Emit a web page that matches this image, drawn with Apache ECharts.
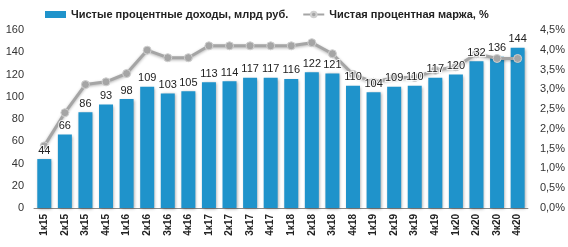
<!DOCTYPE html>
<html>
<head>
<meta charset="utf-8">
<script src="https://cdn.jsdelivr.net/npm/echarts@6/dist/echarts.min.js"></script>
<style>
  html, body { margin: 0; padding: 0; background: #fff; }
  #chart { width: 568px; height: 247px; }
</style>
</head>
<body>
<div id="chart"></div>
<script>
const quarters = ['1к15', '2к15', '3к15', '4к15', '1к16', '2к16', '3к16', '4к16',
    '1к17', '2к17', '3к17', '4к17', '1к18', '2к18', '3к18', '4к18',
    '1к19', '2к19', '3к19', '4к19', '1к20', '2к20', '3к20', '4к20'];
const netIncome = [44, 66, 86, 93, 98, 109, 103, 105, 113, 114, 117, 117,
    116, 122, 121, 110, 104, 109, 110, 117, 120, 132, 136, 144];
const netMargin = [1.57, 2.41, 3.12, 3.19, 3.40, 3.99, 3.80, 3.80, 4.10, 4.10, 4.10, 4.10,
    4.10, 4.18, 3.90, 3.38, 3.18, 3.30, 3.30, 3.48, 3.57, 3.90, 3.78, 3.78];

const barName = 'Чистые процентные доходы, млрд руб.';
const lineName = 'Чистая процентная маржа, %';

const chart = echarts.init(document.getElementById('chart'));

const option = {
    backgroundColor: '#fff',
    animation: false,
    textStyle: { fontFamily: 'Liberation Sans, Arial, sans-serif' },
    legend: {
        top: 4,
        left: 40,
        itemGap: 14,
        itemWidth: 21,
        itemHeight: 7,
        textStyle: { fontSize: 11, fontWeight: 'bold', color: '#222' },
        data: [
            { name: barName, icon: 'rect' },
            { name: lineName }
        ]
    },
    grid: { left: 34, right: 40, top: 30, bottom: 39 },
    xAxis: {
        type: 'category',
        data: quarters,
        axisLine: { lineStyle: { color: '#888', width: 1 } },
        axisTick: { show: false },
        axisLabel: {
            interval: 0,
            rotate: 90,
            fontSize: 10,
            fontWeight: 'bold',
            color: '#222',
            margin: 6
        }
    },
    yAxis: [{
        type: 'value',
        min: 0,
        max: 160,
        interval: 20,
        splitLine: { show: false },
        axisLine: { show: false },
        axisLabel: { fontSize: 11, color: '#333', margin: 10 }
    }, {
        type: 'value',
        min: 0,
        max: 4.5,
        interval: 0.5,
        splitLine: { show: false },
        axisLine: { show: false },
        axisLabel: {
            fontSize: 11,
            color: '#333',
            margin: 12,
            formatter: v => v.toFixed(1).replace('.', ',') + '%'
        }
    }],
    series: [{
        name: barName,
        type: 'bar',
        data: netIncome,
        barCategoryGap: '32%',
        itemStyle: {
            color: '#1f93cb',
            shadowColor: 'rgba(0,0,0,0.35)',
            shadowBlur: 3,
            shadowOffsetX: 1,
            shadowOffsetY: 1
        },
        z: 2
    }, {
        name: lineName,
        type: 'line',
        yAxisIndex: 1,
        data: netMargin,
        symbol: 'circle',
        symbolSize: 8,
        lineStyle: {
            color: '#a5a5a5',
            width: 3,
            shadowColor: 'rgba(0,0,0,0.3)',
            shadowBlur: 3,
            shadowOffsetY: 1
        },
        itemStyle: {
            color: '#a5a5a5',
            borderColor: '#d0d0d0',
            borderWidth: 1
        },
        z: 3
    }, {
        // label layer above the line
        name: 'labels',
        type: 'bar',
        data: netIncome,
        barGap: '-100%',
        barCategoryGap: '32%',
        silent: true,
        itemStyle: { color: 'transparent' },
        label: {
            show: true,
            position: 'top',
            distance: 3,
            fontSize: 11,
            color: '#222',
            textBorderColor: 'rgba(255,255,255,0.85)',
            textBorderWidth: 2
        },
        z: 5
    }]
};

chart.setOption(option);
</script>
</body>
</html>
